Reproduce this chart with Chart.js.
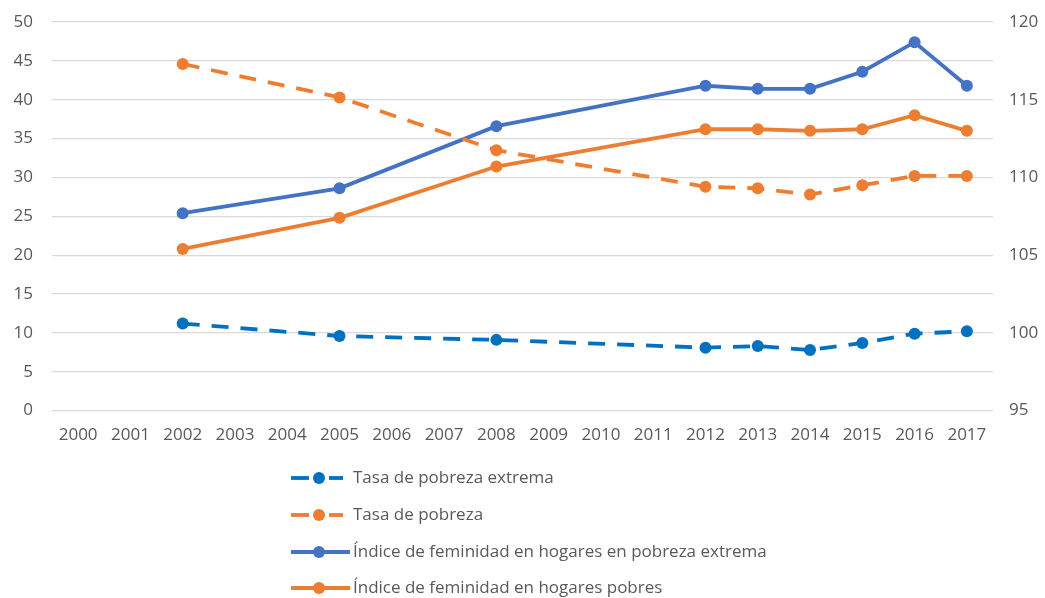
<!DOCTYPE html>
<html>
<head>
<meta charset="utf-8">
<script src="https://cdn.jsdelivr.net/npm/chart.js@4"></script>
<style>
  html, body { margin: 0; padding: 0; background: #fff; }
  #wrap { width: 1045px; height: 598px; }
</style>
</head>
<body>
<div id="wrap"><canvas id="chart" width="1045" height="598"></canvas></div>
<script>
const years = ["2000", "2001", "2002", "2003", "2004", "2005", "2006", "2007", "2008",
  "2009", "2010", "2011", "2012", "2013", "2014", "2015", "2016", "2017"];

// left axis (%)
const pobrezaExtrema = [null, null, 11.2, null, null, 9.6, null, null, 9.1,
  null, null, null, 8.1, 8.3, 7.8, 8.7, 9.9, 10.2];
const pobreza = [null, null, 44.6, null, null, 40.3, null, null, 33.5,
  null, null, null, 28.8, 28.6, 27.8, 29.0, 30.2, 30.2];

// right axis (indice)
const indiceExtrema = [null, null, 107.7, null, null, 109.3, null, null, 113.3,
  null, null, null, 115.9, 115.7, 115.7, 116.8, 118.7, 115.9];
const indicePobres = [null, null, 105.4, null, null, 107.4, null, null, 110.7,
  null, null, null, 113.1, 113.1, 113.0, 113.1, 114.0, 113.0];

const labels = ["Tasa de pobreza extrema", "Tasa de pobreza",
  "Índice de feminidad en hogares en pobreza extrema", "Índice de feminidad en hogares pobres"];

const fontFamily = "'Open Sans', 'Liberation Sans', sans-serif";
const textColor = "#595959";

function series(label, data, color, dashed, axis) {
  return {
    label: label,
    data: data,
    yAxisID: axis,
    borderColor: color,
    backgroundColor: color,
    borderWidth: 3.8,
    borderDash: dashed ? [17, 12] : [],
    pointRadius: 6,
    pointHoverRadius: 6,
    pointBorderWidth: 0,
    spanGaps: true,
    tension: 0,
  };
}

// vertical legend under the plot, like the original
const sideLegend = {
  id: "sideLegend",
  afterDraw(chart) {
    const ctx = chart.ctx;
    const rows = [478, 515, 552, 588];
    ctx.save();
    chart.data.datasets.forEach((ds, i) => {
      const y = rows[i];
      ctx.strokeStyle = ds.borderColor;
      ctx.lineWidth = 3.8;
      ctx.setLineDash([]);
      if (ds.borderDash.length) {
        ctx.beginPath(); ctx.moveTo(291, y); ctx.lineTo(309, y); ctx.stroke();
        ctx.beginPath(); ctx.moveTo(329, y); ctx.lineTo(343, y); ctx.stroke();
      } else {
        ctx.beginPath(); ctx.moveTo(291, y); ctx.lineTo(350, y); ctx.stroke();
      }
      ctx.fillStyle = ds.borderColor;
      ctx.beginPath(); ctx.arc(319, y, 6, 0, Math.PI * 2); ctx.fill();
      ctx.fillStyle = textColor;
      ctx.font = "17px " + fontFamily;
      ctx.textBaseline = "middle";
      ctx.fillText(ds.label, 353, y);
    });
    ctx.restore();
  }
};

new Chart(document.getElementById("chart"), {
  type: "line",
  data: {
    labels: years,
    datasets: [
      series(labels[0], pobrezaExtrema, "#0070C0", true, "y"),
      series(labels[1], pobreza, "#ED7D31", true, "y"),
      series(labels[2], indiceExtrema, "#4472C4", false, "y1"),
      series(labels[3], indicePobres, "#ED7D31", false, "y1"),
    ],
  },
  options: {
    responsive: false,
    animation: false,
    layout: { padding: { top: 22, left: 0, right: 0, bottom: 139 } },
    plugins: {
      legend: { display: false },
      tooltip: { enabled: false },
    },
    scales: {
      x: {
        offset: true,
        grid: { display: false, drawTicks: false },
        border: { display: false },
        ticks: { color: textColor, font: { family: fontFamily, size: 17 }, padding: 14, maxRotation: 0, autoSkip: false },
      },
      y: {
        position: "left",
        min: 0, max: 50,
        ticks: { stepSize: 5, color: textColor, font: { family: fontFamily, size: 17, lineHeight: 0.1 }, padding: 19 },
        grid: { color: "#d9d9d9", lineWidth: 1.3, drawTicks: false },
        border: { display: false },
        afterFit: (axis) => { axis.width = 52; },
      },
      y1: {
        position: "right",
        min: 95, max: 120,
        ticks: { stepSize: 5, color: textColor, font: { family: fontFamily, size: 17, lineHeight: 0.1 }, padding: 16 },
        grid: { display: false, drawTicks: false },
        border: { display: false },
        afterFit: (axis) => { axis.width = 52; },
      },
    },
  },
  plugins: [sideLegend],
});
</script>
</body>
</html>
